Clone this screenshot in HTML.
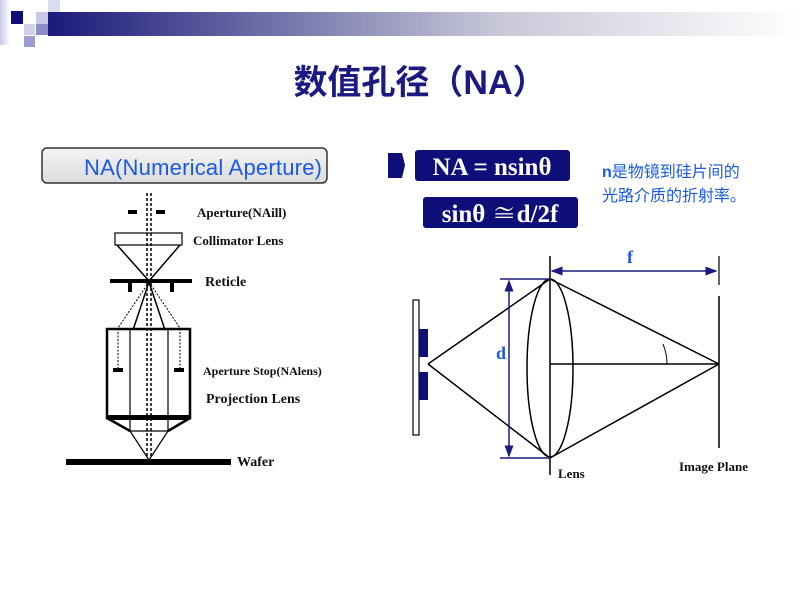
<!DOCTYPE html>
<html><head><meta charset="utf-8"><style>
body{margin:0;background:#fff;width:800px;height:600px;overflow:hidden}
svg text{font-family:"Liberation Serif","Noto Serif CJK SC",serif}
svg text.sans{font-family:"Liberation Sans","Noto Sans CJK SC",sans-serif}
</style></head><body>
<svg width="800" height="600" viewBox="0 0 800 600" xmlns="http://www.w3.org/2000/svg">
<defs>
<linearGradient id="bar" x1="0" x2="1" y1="0" y2="0"><stop offset="0" stop-color="#1a1a7a"/><stop offset="0.6" stop-color="#c8c8d8"/><stop offset="1" stop-color="#ffffff"/></linearGradient>
<linearGradient id="lg" x1="0" x2="1"><stop offset="0" stop-color="#c8c8e4"/><stop offset="1" stop-color="#fff"/></linearGradient>
<linearGradient id="box" x1="0" x2="0" y1="0" y2="1"><stop offset="0" stop-color="#f4f4f4"/><stop offset="1" stop-color="#dcdcdc"/></linearGradient>
<marker id="ah" markerWidth="8" markerHeight="8" refX="7" refY="4" orient="auto-start-reverse"><path d="M0,1 L8,4 L0,7 z" fill="#1a1a80"/></marker>
</defs>
<rect x="0" y="0" width="10" height="45" fill="url(#lg)"/>
<rect x="11" y="11" width="12" height="13" fill="#0e0e78"/>
<rect x="24" y="24" width="11" height="11" fill="#d0d0e8"/>
<rect x="36" y="12" width="12" height="12" fill="#c8c8e4"/>
<rect x="36" y="24" width="12" height="11" fill="#8c8cc4"/>
<rect x="24" y="36" width="11" height="11" fill="#9c9cd0"/>
<rect x="48" y="0" width="12" height="12" fill="#dcdcf0"/>
<rect x="48" y="12" width="752" height="24" fill="url(#bar)"/>
<text class="sans" x="420" y="94" text-anchor="middle" font-size="34" font-weight="bold" fill="#1a1a80">数值孔径（NA）</text>

<rect x="42" y="148" width="285" height="35" rx="5" fill="url(#box)" stroke="#333" stroke-width="1.5"/>
<text class="sans" x="203" y="175" text-anchor="middle" font-size="22" fill="#1a5ae0" textLength="238">NA(Numerical Aperture)</text>

<g stroke="#000" fill="none">
<line x1="147" y1="193" x2="147" y2="458" stroke-width="1.5" stroke-dasharray="3,2"/>
<line x1="151" y1="193" x2="151" y2="458" stroke-width="1.5" stroke-dasharray="3,2"/>
<rect x="115" y="233" width="67" height="12" stroke-width="1.2"/>
<line x1="117" y1="245" x2="149" y2="281" stroke-width="1.5"/>
<line x1="180" y1="245" x2="149" y2="281" stroke-width="1.5"/>
<line x1="149" y1="282" x2="133" y2="330" stroke-width="1.5"/>
<line x1="149" y1="282" x2="165" y2="330" stroke-width="1.5"/>
<polyline points="149,282 118,328 118,368" stroke-width="1" stroke-dasharray="2,1.5"/>
<polyline points="149,282 180,328 180,368" stroke-width="1" stroke-dasharray="2,1.5"/>
<rect x="107" y="329" width="83" height="89" stroke-width="2.5"/>
<line x1="130" y1="330" x2="130" y2="431" stroke-width="1.2"/>
<line x1="168" y1="330" x2="168" y2="431" stroke-width="1.2"/>
<line x1="107" y1="418" x2="130" y2="431" stroke-width="2.5"/>
<line x1="190" y1="418" x2="168" y2="431" stroke-width="2.5"/>
<line x1="130" y1="431" x2="168" y2="431" stroke-width="1.2"/>
<line x1="130" y1="431" x2="149" y2="460" stroke-width="1.2"/>
<line x1="168" y1="431" x2="149" y2="460" stroke-width="1.2"/>
</g>
<g fill="#000">
<rect x="128" y="210" width="9" height="4"/><rect x="156" y="210" width="9" height="4"/>
<rect x="110" y="279" width="82" height="4"/>
<rect x="128" y="283" width="4" height="9"/><rect x="170" y="283" width="4" height="9"/>
<rect x="113" y="368" width="10" height="4"/><rect x="174" y="368" width="10" height="4"/>
<rect x="107" y="415" width="83" height="5"/>
<rect x="66" y="459" width="165" height="6"/>
</g>
<g font-weight="bold" fill="#111">
<text x="197" y="217" font-size="13">Aperture(NAill)</text>
<text x="193" y="245" font-size="13">Collimator Lens</text>
<text x="205" y="286" font-size="14">Reticle</text>
<text x="203" y="375" font-size="12">Aperture Stop(NAlens)</text>
<text x="206" y="403" font-size="14">Projection Lens</text>
<text x="237" y="466" font-size="14">Wafer</text>
</g>

<path d="M388,153 L402,153 L405,165 L402,178 L388,178 z" fill="#0e0e78"/>
<rect x="415" y="150" width="155" height="31" rx="3" fill="#0e0e78"/>
<text x="492" y="175" text-anchor="middle" font-size="25" font-weight="bold" fill="#fff">NA = nsinθ</text>
<rect x="423" y="197" width="155" height="31" rx="3" fill="#0e0e78"/>
<text x="500" y="222" text-anchor="middle" font-size="25" font-weight="bold" fill="#fff">sinθ ≅d/2f</text>
<text class="sans" x="602" y="177" font-size="16" fill="#1a5ae0"><tspan font-weight="bold">n</tspan>是物镜到硅片间的</text>
<text class="sans" x="602" y="201" font-size="16" fill="#1a5ae0">光路介质的折射率。</text>

<rect x="413" y="300" width="6" height="135" fill="#fff" stroke="#000" stroke-width="1.2"/>
<rect x="419" y="329" width="9" height="28" fill="#0e0e78"/>
<rect x="419" y="372" width="9" height="28" fill="#0e0e78"/>
<g stroke="#000" stroke-width="1.5" fill="none">
<line x1="428" y1="364" x2="550" y2="279"/>
<line x1="428" y1="364" x2="550" y2="458"/>
<line x1="550" y1="256" x2="550" y2="475"/>
<ellipse cx="550" cy="368" rx="23" ry="89"/>
<line x1="550" y1="364" x2="719" y2="364"/>
<line x1="719" y1="296" x2="719" y2="448"/>
<line x1="719" y1="256" x2="719" y2="285" stroke-width="1.2"/>
<line x1="550" y1="279" x2="719" y2="364"/>
<line x1="550" y1="458" x2="719" y2="364"/>
<path d="M663,344 Q667,354 667,364" stroke-width="1"/>
</g>
<g stroke="#1a1a80" stroke-width="1.5">
<line x1="552" y1="271" x2="716" y2="271" marker-start="url(#ah)" marker-end="url(#ah)"/>
<line x1="509" y1="281" x2="509" y2="456" marker-start="url(#ah)" marker-end="url(#ah)"/>
<line x1="500" y1="279" x2="550" y2="279"/>
<line x1="500" y1="458" x2="550" y2="458"/>
</g>
<text x="627" y="263" font-size="18" font-weight="bold" fill="#1a5ae0">f</text>
<text x="496" y="359" font-size="18" font-weight="bold" fill="#1a5ae0">d</text>
<text x="558" y="478" font-size="13" font-weight="bold" fill="#111">Lens</text>
<text x="679" y="471" font-size="13" font-weight="bold" fill="#111">Image Plane</text>
</svg>
</body></html>
